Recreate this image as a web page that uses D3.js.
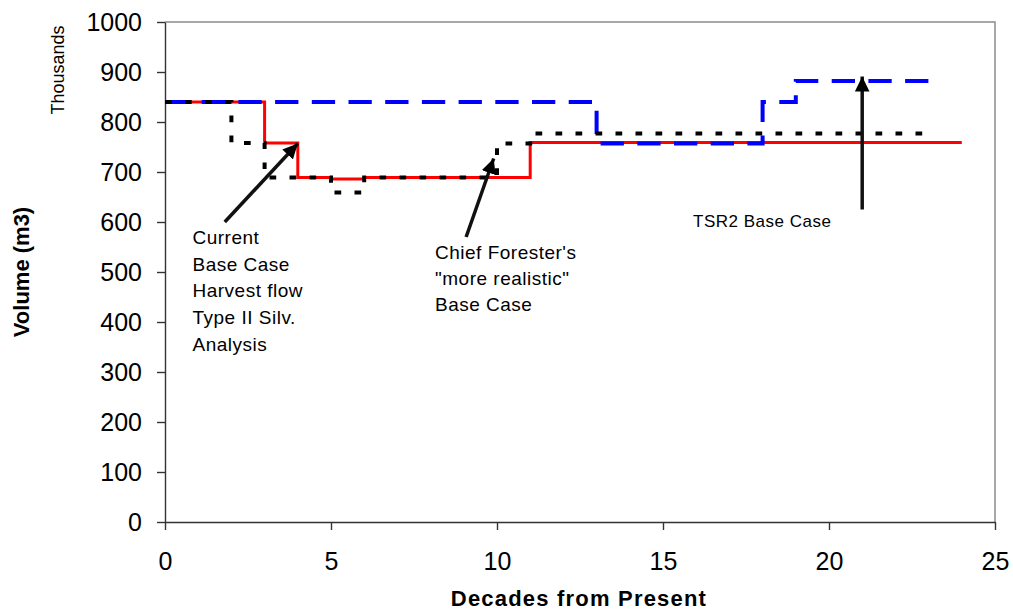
<!DOCTYPE html>
<html>
  <head>
    <meta charset="UTF-8" />
    <style>
      body {
        margin: 0;
        background: #fff;
      }
      svg {
        display: block;
        font-family: "Liberation Sans", Arial, sans-serif;
      }
      .axis path,
      .axis line {
        stroke: #333;
        stroke-width: 1.4px;
      }
      .axis text {
        font-size: 25px;
        fill: #000;
      }
      .note {
        font-size: 19px;
        letter-spacing: 0.5px;
        fill: #000;
      }
    </style>
  </head>
  <body>
    <svg></svg>
    <script src="https://d3js.org/d3.v7.min.js"></script>
    <script>
      // decades (start of each step) and volumes in thousands of m3
      const decades = d3.range(0, 25);

      const currentBase = [
        840, 840, 840, 758, 689, 686, 689, 689, 689, 689, 689, 759, 759, 759,
        759, 759, 759, 759, 759, 759, 759, 759, 759, 759, 759,
      ];
      const chiefForester = [
        840, 840, 758, 689, 689, 659, 689, 689, 689, 689, 757, 777, 777, 777,
        777, 777, 777, 777, 777, 777, 777, 777, 777, 777,
      ];
      const tsr2Base = [
        840, 840, 840, 840, 840, 840, 840, 840, 840, 840, 840, 840, 840, 757,
        757, 757, 757, 757, 840, 882, 882, 882, 882, 882,
      ];

      const xTicks = [0, 5, 10, 15, 20, 25];
      const yTicks = [0, 100, 200, 300, 400, 500, 600, 700, 800, 900, 1000];

      // annotation arrows: [tailDecade, tailVol, tipDecade, tipVol]
      const arrows = [
        [1.8, 600, 4.0, 757],
        [9.07, 570, 9.9, 727],
        [21.0, 625, 21.0, 891],
      ];
      const currentLabel = [
        "Current",
        "Base Case",
        "Harvest flow",
        "Type II Silv.",
        "Analysis",
      ];
      const chiefLabel = ["Chief Forester's", '"more realistic"', "Base Case"];
      const tsrLabel = "TSR2 Base Case";

      let width = 1013,
        height = 613;
      let margin = { top: 22, right: 18, bottom: 91, left: 165 };

      let svg = d3.select("svg").attr("width", width).attr("height", height);

      let x = d3
        .scaleLinear()
        .domain([0, 25])
        .range([margin.left, width - margin.right]);
      let y = d3
        .scaleLinear()
        .domain([0, 1000])
        .range([height - margin.bottom, margin.top]);

      // frame top/right
      svg
        .append("path")
        .attr(
          "d",
          "M" + x(0) + "," + y(1000) + "H" + x(25) + "V" + y(0)
        )
        .attr("fill", "none")
        .attr("stroke", "#8c8c8c")
        .attr("stroke-width", 1.5);

      svg
        .append("g")
        .attr("class", "axis")
        .attr("transform", "translate(0," + y(0) + ")")
        .call(
          d3
            .axisBottom(x)
            .tickValues(xTicks)
            .tickFormat(d3.format("d"))
            .tickSize(8)
            .tickPadding(22)
            .tickSizeOuter(0)
        );

      svg
        .append("g")
        .attr("class", "axis")
        .attr("transform", "translate(" + x(0) + ",0)")
        .call(
          d3
            .axisLeft(y)
            .tickValues(yTicks)
            .tickFormat(d3.format("d"))
            .tickSize(8)
            .tickPadding(15)
            .tickSizeOuter(0)
        );

      let line = d3
        .line()
        .x((d) => x(d[0]))
        .y((d) => y(d[1]))
        .curve(d3.curveStepAfter);

      function pts(vals) {
        return vals.map((v, i) => [decades[i], v]);
      }

      svg
        .append("path")
        .attr("d", line(pts(currentBase)))
        .attr("fill", "none")
        .attr("stroke", "#ff0000")
        .attr("stroke-width", 3);

      svg
        .append("path")
        .attr("d", line(pts(tsr2Base)))
        .attr("fill", "none")
        .attr("stroke", "#0000ff")
        .attr("stroke-width", 4)
        .attr("stroke-dasharray", "23.3,13.4");

      svg
        .append("path")
        .attr("d", line(pts(chiefForester)))
        .attr("fill", "none")
        .attr("stroke", "#000")
        .attr("stroke-width", 4)
        .attr("stroke-dasharray", "6.7,13.3");

      // arrow heads
      svg
        .append("defs")
        .append("marker")
        .attr("id", "head")
        .attr("viewBox", "0 -7.5 15 15")
        .attr("refX", 15)
        .attr("refY", 0)
        .attr("markerUnits", "userSpaceOnUse")
        .attr("markerWidth", 15)
        .attr("markerHeight", 15)
        .attr("orient", "auto")
        .append("path")
        .attr("d", "M0,-7.3L15,0L0,7.3Z")
        .attr("fill", "#000");

      svg
        .append("g")
        .selectAll("line")
        .data(arrows)
        .enter()
        .append("line")
        .attr("x1", (d) => x(d[0]))
        .attr("y1", (d) => y(d[1]))
        .attr("x2", (d) => x(d[2]))
        .attr("y2", (d) => y(d[3]))
        .attr("stroke", "#111")
        .attr("stroke-width", 3.5)
        .attr("marker-end", "url(#head)");

      // annotation texts
      svg
        .append("text")
        .attr("class", "note")
        .attr("x", 192.5)
        .attr("y", 244)
        .selectAll("tspan")
        .data(currentLabel)
        .enter()
        .append("tspan")
        .attr("x", 192.5)
        .attr("dy", (d, i) => (i === 0 ? 0 : 26.7))
        .text((d) => d);

      svg
        .append("text")
        .attr("class", "note")
        .attr("x", 435)
        .attr("y", 258.5)
        .selectAll("tspan")
        .data(chiefLabel)
        .enter()
        .append("tspan")
        .attr("x", 435)
        .attr("dy", (d, i) => (i === 0 ? 0 : 26))
        .text((d) => d);

      svg
        .append("text")
        .attr("class", "note")
        .attr("x", 693)
        .attr("y", 227)
        .style("font-size", "17px")
        .text(tsrLabel);

      // axis titles
      svg
        .append("text")
        .attr("transform", "translate(29," + y(500) + ") rotate(-90)")
        .attr("text-anchor", "middle")
        .style("font-size", "22px")
        .style("font-weight", "bold")
        .text("Volume (m3)");

      svg
        .append("text")
        .attr("transform", "translate(64,70) rotate(-90)")
        .attr("text-anchor", "middle")
        .style("font-size", "18px")
        .text("Thousands");

      svg
        .append("text")
        .attr("x", 579)
        .attr("y", 606)
        .attr("text-anchor", "middle")
        .style("font-size", "22px")
        .style("font-weight", "bold")
        .style("letter-spacing", "1.2px")
        .text("Decades from Present");
    </script>
  </body>
</html>
